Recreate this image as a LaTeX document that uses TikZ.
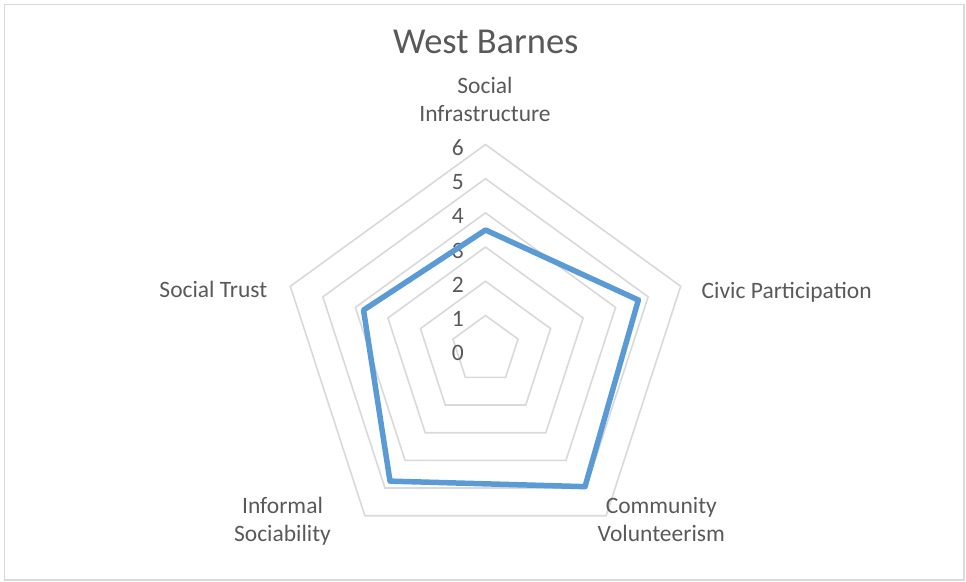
\documentclass[tikz,border=0pt]{standalone}
\usepackage{fontspec}
\setmainfont{Carlito}
\usetikzlibrary{calc}
\definecolor{gridgray}{HTML}{D9D9D9}
\definecolor{txtgray}{HTML}{595959}
\definecolor{serblue}{HTML}{5B9BD5}
\begin{document}
\begin{tikzpicture}[x=1pt,y=1pt,
  gridline/.style={draw=gridgray,line width=1.6pt,line join=miter},
  series/.style={draw=serblue,line width=5.5pt,line join=round},
  lbl/.style={text=txtgray,inner sep=0pt,font=\fontsize{23.5}{28.4}\selectfont},
  ticklbl/.style={lbl,anchor=base east},
  axislbl/.style={lbl,anchor=base,align=center},
  titlelbl/.style={lbl,anchor=base,font=\fontsize{36.5}{44}\selectfont}]
\useasboundingbox (0,0) rectangle (966,581);
\draw[draw=gridgray,line width=1.5pt] (4.5,1.2) rectangle (963.8,576.5);
\coordinate (C) at (485.5,231.3);
% grid pentagons
\foreach \k in {1,...,6}{
  \draw[gridline,shift={(C)}] (90:{\k*34.2}) -- (18:{\k*34.2}) -- (-54:{\k*34.2}) -- (-126:{\k*34.2}) -- (162:{\k*34.2}) -- cycle;
}
% tick labels
\foreach \k in {0,...,6}{
  \node[ticklbl] (t\k) at (464,{231.3+\k*34.2-11}) {\k};
}
% data
\coordinate (d1) at ($(C)+(90:{3.5*34.2})$);
\coordinate (d2) at ($(C)+(18:{4.7*34.2})$);
\coordinate (d3) at ($(C)+(-54:{4.95*34.2})$);
\coordinate (d4) at ($(C)+(-126:{4.75*34.2})$);
\coordinate (d5) at ($(C)+(162:{3.75*34.2})$);
\draw[series] (d1) -- (d2) -- (d3) -- (d4) -- (d5) -- cycle;
% labels
\node[titlelbl] (title) at (485.8,527.7) {West Barnes};
\node[axislbl] (si) at (485,459.3) {Social\\Infrastructure};
\node[lbl,anchor=base west] (cp) at (701.5,282.7) {Civic Participation};
\node[lbl,anchor=base east] (st) at (267.5,283.7) {Social Trust};
\node[axislbl] (is) at (282.5,39.3) {Informal\\Sociability};
\node[axislbl] (cv) at (661.3,39.3) {Community\\Volunteerism};
\end{tikzpicture}
\end{document}
